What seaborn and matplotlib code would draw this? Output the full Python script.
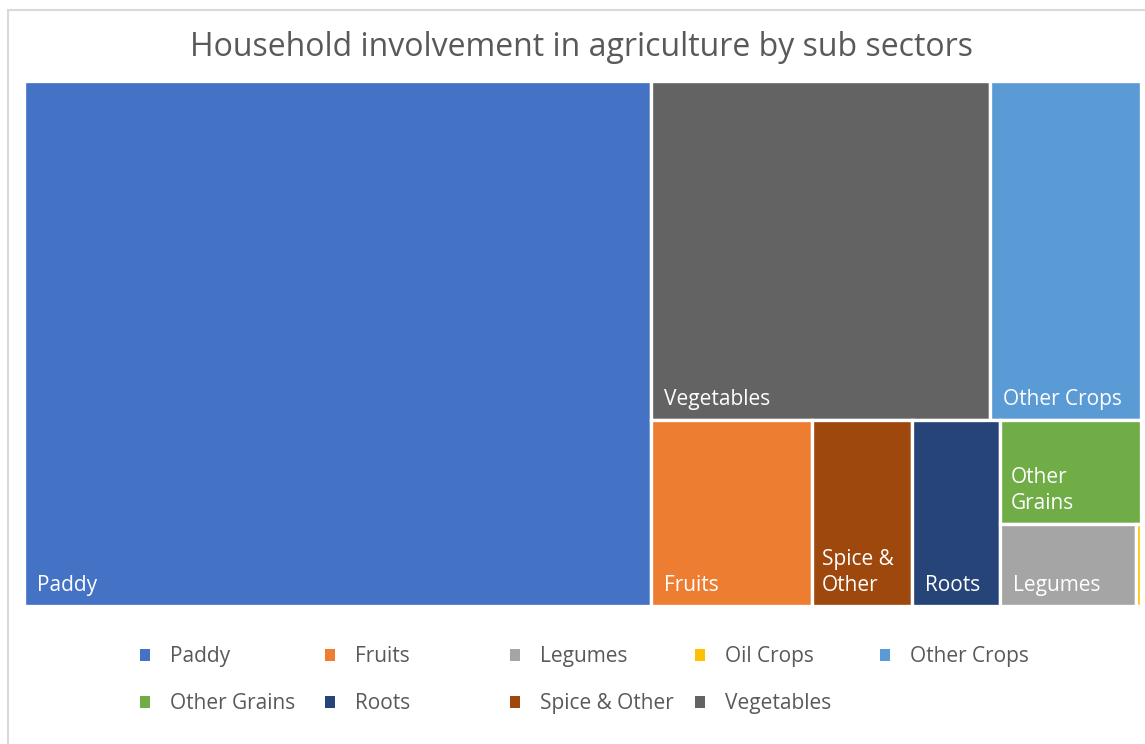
import matplotlib
matplotlib.use("Agg")
import matplotlib.pyplot as plt
from matplotlib.patches import Rectangle, Patch
import seaborn as sns

# share of households by sub sector (%)
sectors = ["Paddy", "Vegetables", "Other Crops", "Fruits", "Spice & Other",
           "Roots", "Other Grains", "Legumes", "Oil Crops"]
shares = [56.2, 19.6, 8.7, 5.1, 3.2, 2.8, 2.5, 1.9, 0.07]

legend_order = ["Paddy", "Fruits", "Legumes", "Oil Crops", "Other Crops",
                "Other Grains", "Roots", "Spice & Other", "Vegetables"]
palette = ["#4472C4", "#ED7D31", "#A5A5A5", "#FFC000", "#5B9BD5",
           "#70AD47", "#264478", "#9E480E", "#636363"]
colors = dict(zip(legend_order, palette))
value = dict(zip(sectors, shares))

# nesting of the tiles (h = side by side, v = stacked)
tree = ("h", ["Paddy",
              ("v", [("h", ["Vegetables", "Other Crops"]),
                     ("h", ["Fruits", "Spice & Other", "Roots",
                            ("v", ["Other Grains",
                                   ("h", ["Legumes", "Oil Crops"])])])])])


def weight(node):
    if isinstance(node, str):
        return value[node]
    return sum(weight(c) for c in node[1])


def layout(node, x, y, w, h, out):
    if isinstance(node, str):
        out[node] = (x, y, w, h)
        return
    direction, children = node
    total = weight(node)
    pos = 0.0
    for c in children:
        f = weight(c) / total
        if direction == "h":
            layout(c, x + pos * w, y, f * w, h, out)
        else:
            layout(c, x, y + pos * h, w, f * h, out)
        pos += f


sns.set_theme(style="white")
plt.rcParams["font.family"] = ["Open Sans", "DejaVu Sans"]

W, H = 1117, 525
fig = plt.figure(figsize=(11.45, 7.44), dpi=100)
ax = fig.add_axes([24 / 1145, 1 - 606 / 744, W / 1145, H / 744])
ax.set_xlim(0, W)
ax.set_ylim(H, 0)
ax.axis("off")

rects = {}
layout(tree, 0, 0, W, H, rects)

fig.canvas.draw()
renderer = fig.canvas.get_renderer()
for name in sectors:
    x, y, w, h = rects[name]
    ax.add_patch(Rectangle((x, y), w, h, facecolor=colors[name],
                           edgecolor="white", linewidth=2.4))
    if w < 20:
        continue
    t = ax.text(x + 13, y + h - 10, name, color="white", fontsize=15,
                ha="left", va="bottom", linespacing=1.3)
    bb = t.get_window_extent(renderer)
    if bb.width > w - 20:
        # wrap onto two lines like Excel does for narrow tiles
        if "&" in name:
            top, bottom = name.split("& ")
            top += "&"
        else:
            top, bottom = name.rsplit(" ", 1)
        t.set_text(top + "\n" + bottom)
        t.set_x(x + 10)

fig.text(582 / 1145, 1 - 48 / 744, "Household involvement in agriculture by sub sectors",
         ha="center", va="center", fontsize=23, color="#595959")

# legend: 5 evenly spaced columns, filled row by row
for col in range(5):
    names = legend_order[col::5]
    handles = [Patch(facecolor=colors[n], edgecolor="none") for n in names]
    fig.legend(handles, names, loc="upper left",
               bbox_to_anchor=((140 + 185 * col) / 1145, 1 - 646 / 744),
               frameon=False, fontsize=15, labelcolor="#595959",
               handlelength=0.5, handleheight=0.5, handletextpad=0.95,
               labelspacing=1.25, borderpad=0, borderaxespad=0)

fig.patches.append(Rectangle((8 / 1145, -0.1), 1.2, 1 - 10 / 744 + 0.1,
                             transform=fig.transFigure, fill=False,
                             edgecolor="#D9D9D9", linewidth=1.5))

fig.savefig("out.png", dpi=100)
